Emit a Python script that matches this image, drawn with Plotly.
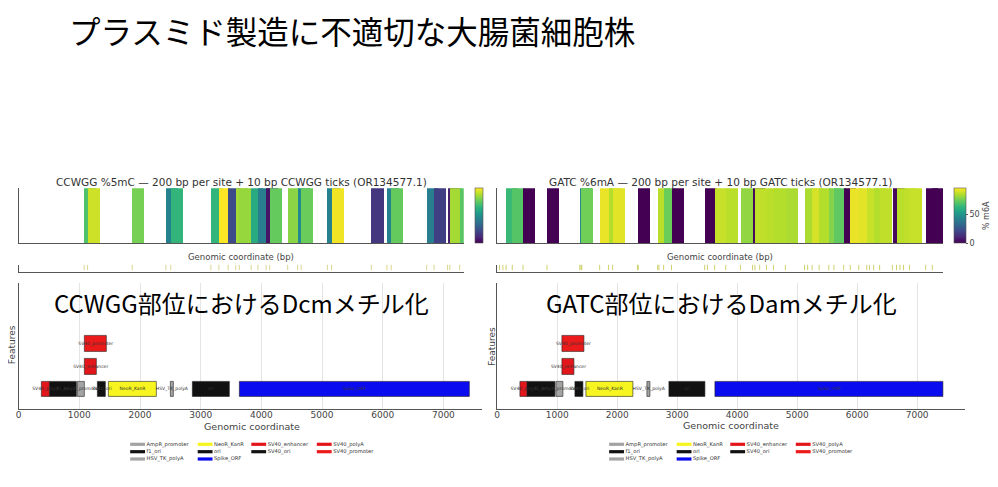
import plotly.graph_objects as go

# the page puts the plot 8 px in from the window corner, so the figure is 8 px smaller
# on each side and all positions below are given in window pixels
WIN_W, WIN_H = 998, 487
PAD = 8
W, H = WIN_W - 2 * PAD, WIN_H - 2 * PAD

ccwgg_sites = [1078, 1134, 1872, 2428, 2509, 3171, 3303, 3457, 3582, 3641, 3837, 3949,
               4084, 4144, 4441, 4605, 4663, 5097, 5166, 5823, 6082, 6151, 6738, 6859,
               7083, 7120, 7283]
ccwgg_5mc = [68, 88, 75, 42, 62, 62, 95, 22, 82, 80, 58, 40, 5, 72, 78, 45, 73, 42, 93,
             15, 42, 72, 40, 18, 8, 82, 70]
ccwgg_ticks = ccwgg_sites

# GATC sites and %6mA
gatc_sites = [153, 255, 432, 827, 1367, 1387, 1694, 1841, 1907, 2316,
              2649, 2748, 2878, 3424, 3588, 3771, 4013, 4213, 4252, 4442,
              4557, 4753, 5070, 5194, 5309, 5469, 5554, 5714, 5822, 5963,
              6094, 6208, 6306, 6516, 6584, 6699, 6797, 7065, 7173]
gatc_6ma = [65, 70, 0, 0, 45, 75, 93, 85, 92, 0,
            86, 74, 0, 0, 88, 86, 80, 2, 87, 86,
            85, 84, 84, 90, 85, 78, 72, 0, 93, 92,
            88, 85, 87, 2, 86, 87, 88, 0, 0]
# GATC ticks also where no methylation call is drawn
gatc_ticks = gatc_sites + [45, 100, 1400, 2330, 2670, 3470, 4330, 5120, 6140, 6640]

# plasmid features (OR134577.1)
feature_names = ["AmpR_promoter", "f1_ori", "HSV_TK_polyA", "NeoR_KanR", "ori", "Spike_ORF",
                 "SV40_enhancer", "SV40_ori", "SV40_polyA", "SV40_promoter"]
feature_start = [980, 505, 2500, 1480, 2865, 3640, 1090, 1300, 380, 1090]
feature_end = [1095, 960, 2550, 2275, 3470, 7430, 1285, 1440, 505, 1450]
feature_lane = [0, 0, 0, 0, 0, 0, 1, 0, 0, 2]

feature_colors = {
    "AmpR_promoter": "#a3a3a3", "f1_ori": "#111111", "HSV_TK_polyA": "#a3a3a3",
    "NeoR_KanR": "#f6f51f", "ori": "#111111", "Spike_ORF": "#0b0bf0",
    "SV40_enhancer": "#e3161b", "SV40_ori": "#111111", "SV40_polyA": "#e3161b",
    "SV40_promoter": "#ec1b1b",
}

TXT = "DejaVu Sans"
JP = "Noto Sans CJK JP"
AX = "#555555"


def px(x):
    return (x - PAD) / W


def py(y):
    return 1 - (y - PAD) / H


fig = go.Figure()

panels = [
    dict(h="", t="2", f="3", sites=ccwgg_sites, vals=ccwgg_5mc, ticks=ccwgg_ticks,
         cmax=95, tick_col="#d9cf80",
         cbar=dict(x=px(475), xanchor="left", xpad=0, ypad=0, y=py(215.8), yanchor="middle",
                   len=55, lenmode="pixels", thickness=8, showticklabels=False, ticks="",
                   outlinewidth=0.6, outlinecolor=AX)),
    dict(h="4", t="5", f="6", sites=gatc_sites, vals=gatc_6ma, ticks=gatc_ticks,
         cmax=96, tick_col="#c9cc5c",
         cbar=dict(x=px(957.3), xanchor="left", xpad=0, ypad=0, y=py(215.8), yanchor="middle",
                   len=55, lenmode="pixels", thickness=12, tickvals=[0, 50], ticks="outside",
                   ticklen=2, tickcolor=AX, tickfont=dict(family=TXT, size=8, color="#444"),
                   outlinewidth=0.6, outlinecolor=AX,
                   title=dict(text="% m6A", side="right", font=dict(family=TXT, size=8, color="#444")))),
]

for p in panels:
    # methylation strip: one 200 bp bar per site
    fig.add_trace(go.Bar(
        x=p["sites"], y=[1] * len(p["sites"]), width=200, offset=0,
        marker=dict(color=p["vals"], colorscale="Viridis", cmin=0, cmax=p["cmax"],
                    line=dict(width=0), showscale=True, colorbar=p["cbar"]),
        xaxis="x" + p["h"], yaxis="y" + p["h"], showlegend=False, hoverinfo="skip",
    ))
    # 10 bp site ticks
    fig.add_trace(go.Scatter(
        x=p["ticks"], y=[0.6] * len(p["ticks"]), mode="markers",
        marker=dict(symbol="line-ns", size=4, line=dict(width=0.9, color=p["tick_col"])),
        xaxis="x" + p["t"], yaxis="y" + p["t"], showlegend=False, hoverinfo="skip",
    ))
    # feature boxes
    fig.add_trace(go.Bar(
        orientation="h", y=feature_lane,
        x=[e - s for s, e in zip(feature_start, feature_end)], base=feature_start,
        width=0.68,
        marker=dict(color=[feature_colors[n] for n in feature_names],
                    line=dict(color="#222222", width=0.6)),
        xaxis="x" + p["f"], yaxis="y" + p["f"], showlegend=False, hoverinfo="skip",
    ))
    fig.add_trace(go.Scatter(
        x=[(s + e) / 2 for s, e in zip(feature_start, feature_end)], y=feature_lane,
        mode="text", text=feature_names,
        textfont=dict(family=TXT, size=4.5, color="#333333"),
        xaxis="x" + p["f"], yaxis="y" + p["f"], showlegend=False, hoverinfo="skip",
    ))

# legend (matplotlib-style, 4 columns) drawn on a full-page helper axis in window pixels
ncol = 4
per_col = [len(feature_names) // ncol + (1 if c < len(feature_names) % ncol else 0) for c in range(ncol)]
leg_cols = [128, 196, 250, 316]
leg_rows = [444.3, 451.7, 459]
panel_shift = [0, 482.4]
sw_x, sw_y, tx_x, sw_c, labels = [], [], [], [], []
for shift in panel_shift:
    i = 0
    for c in range(ncol):
        for r in range(per_col[c]):
            name = feature_names[i]
            sw_x.append(leg_cols[c] + shift + 7.5)
            sw_y.append(leg_rows[r])
            tx_x.append(leg_cols[c] + shift + 16.5)
            sw_c.append(feature_colors[name])
            labels.append(name)
            i += 1
fig.add_trace(go.Scatter(
    x=sw_x, y=sw_y, mode="markers",
    marker=dict(symbol="line-ew", size=10.6, line=dict(width=3.2, color=sw_c)),
    xaxis="x7", yaxis="y7", showlegend=False, hoverinfo="skip",
))
fig.add_trace(go.Scatter(
    x=tx_x, y=sw_y, mode="text", text=labels, textposition="middle right",
    marker=dict(size=1),
    textfont=dict(family=TXT, size=5.2, color="#333333"),
    xaxis="x7", yaxis="y7", showlegend=False, hoverinfo="skip",
))

heat_x = [[px(16), px(464)], [px(497.3), px(946.7)]]
feat_x = [[px(15.7), px(482)], [px(497.7), px(969.3)]]
feat_range = [7630, 7805]

strip = dict(showticklabels=False, ticks="", showgrid=False, zeroline=False,
             showline=True, linecolor=AX, linewidth=1)
layout_axes = {}
for k, p in enumerate(panels):
    layout_axes["xaxis" + p["h"]] = dict(domain=heat_x[k], range=[0, 7350], anchor="y" + p["h"], **strip)
    layout_axes["yaxis" + p["h"]] = dict(domain=[py(243.3), py(188.3)], range=[0, 1], anchor="x" + p["h"], **strip)
    layout_axes["xaxis" + p["t"]] = dict(domain=heat_x[k], range=[0, 7350], anchor="y" + p["t"], **strip)
    layout_axes["yaxis" + p["t"]] = dict(domain=[py(271.7), py(264.5)], range=[0, 1], anchor="x" + p["t"], **strip)
    layout_axes["xaxis" + p["f"]] = dict(
        domain=feat_x[k], range=[0, feat_range[k]], anchor="y" + p["f"],
        tickvals=list(range(0, 8000, 1000)), ticks="", ticklabelstandoff=-3,
        showgrid=True, gridcolor="#e4e4e4",
        gridwidth=1, zeroline=False, showline=True, linecolor=AX, linewidth=1,
        tickfont=dict(family=TXT, size=9, color="#444444"),
    )
    layout_axes["yaxis" + p["f"]] = dict(
        domain=[py(409.4), py(282.7)], range=[-0.88, 4.67], anchor="x" + p["f"], **strip)
layout_axes["xaxis7"] = dict(domain=[0, 1], range=[PAD, WIN_W - PAD], visible=False, anchor="y7")
layout_axes["yaxis7"] = dict(domain=[0, 1], range=[WIN_H - PAD, PAD], visible=False, anchor="x7")

ann = [
    dict(text="プラスミド製造に不適切な大腸菌細胞株", x=px(351.5), y=py(30),
         font=dict(family=JP, size=31.5, color="#000000")),
    dict(text="CCWGG %5mC — 200 bp per site + 10 bp CCWGG ticks (OR134577.1)", x=px(240), y=py(181.5),
         font=dict(family=TXT, size=10.5, color="#333333")),
    dict(text="GATC %6mA — 200 bp per site + 10 bp GATC ticks (OR134577.1)", x=px(722.5), y=py(181.5),
         font=dict(family=TXT, size=10.5, color="#333333")),
    dict(text="Genomic coordinate (bp)", x=px(240), y=py(256.7), font=dict(family=TXT, size=8.5, color="#444444")),
    dict(text="Genomic coordinate (bp)", x=px(721.7), y=py(256.7), font=dict(family=TXT, size=8.5, color="#444444")),
    dict(text="Genomic coordinate", x=px(251), y=py(426.5), font=dict(family=TXT, size=9.5, color="#444444")),
    dict(text="Genomic coordinate", x=px(733.5), y=py(425.5), font=dict(family=TXT, size=9.5, color="#444444")),
    dict(text="Features", x=px(9.3), y=py(345), textangle=-90, font=dict(family=TXT, size=9, color="#444444")),
    dict(text="Features", x=px(491.7), y=py(346.7), textangle=-90, font=dict(family=TXT, size=9, color="#444444")),
    dict(text="CCWGG部位におけるDcmメチル化", x=px(240), y=py(302),
         font=dict(family=JP, size=24, color="#000000")),
    dict(text="GATC部位におけるDamメチル化", x=px(723.7), y=py(302),
         font=dict(family=JP, size=24, color="#000000")),
]
for a in ann:
    a.update(xref="paper", yref="paper", showarrow=False, xanchor="center", yanchor="middle")

fig.update_layout(
    width=W, height=H, margin=dict(l=0, r=0, t=0, b=0),
    paper_bgcolor="white", plot_bgcolor="rgba(0,0,0,0)",
    barmode="overlay", bargap=0, showlegend=False,
    annotations=ann, **layout_axes,
)

fig.write_html("out.html")
